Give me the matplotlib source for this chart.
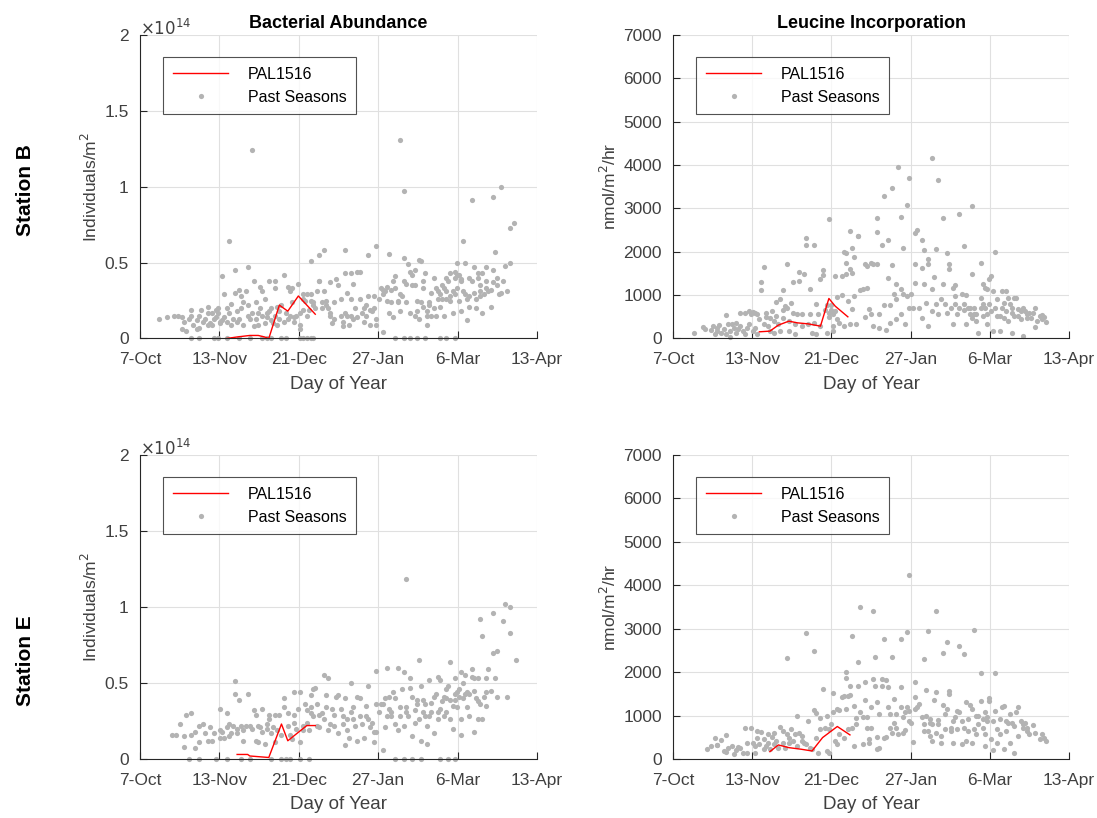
import numpy as np
import matplotlib
matplotlib.use('Agg')
import matplotlib.pyplot as plt

plt.rcParams['font.family'] = ['Liberation Sans', 'DejaVu Sans']

# x axis: days since 7-Oct
tick_days = [0, 37.6, 75.2, 112.8, 150.4, 188]
tick_labels = ['7-Oct', '13-Nov', '21-Dec', '27-Jan', '6-Mar', '13-Apr']

# ---- Station B, bacterial abundance (x1e14 individuals/m^2) ----
b_abund_past = [
    (9, 0.13), (13, 0.14), (16, 0.15), (18, 0.15), (20, 0.14), (21, 0.11), (20, 0.06), (22, 0.05),
    (23, 0.13), (24, 0.15), (24, 0.19), (25, 0.09), (27, 0.06), (27, 0.12), (28, 0.15), (28, 0.07),
    (29, 0.19), (30, 0.11), (31, 0.13), (32, 0.21), (32, 0.09), (32, 0.17), (33, 0.10), (34, 0.09),
    (34, 0.17), (35, 0.13), (36, 0.14), (36, 0.19), (37, 0.20), (37, 0.17), (38, 0.11), (38, 0.10),
    (39, 0.12), (39, 0.41), (40, 0.14), (40, 0.29), (41, 0.11), (41, 0.20), (42, 0.17), (42, 0.64),
    (43, 0.09), (43, 0.23), (44, 0.13), (45, 0.45), (45, 0.30), (46, 0.18), (46, 0.11), (47, 0.13),
    (47, 0.32), (48, 0.28), (48, 0.20), (49, 0.24), (49, 0.09), (50, 0.31), (51, 0.22), (51, 0.47),
    (51, 0.15), (52, 0.13), (53, 0.17), (54, 0.38), (54, 0.08), (55, 0.24), (55, 0.13), (56, 0.09),
    (56, 0.17), (57, 0.34), (57, 0.20), (58, 0.31), (58, 0.15), (59, 0.26), (59, 0.10), (60, 0.17),
    (60, 0.14), (61, 0.18), (61, 0.38), (62, 0.12), (62, 0.20), (63, 0.10), (64, 0.33), (64, 0.15),
    (64, 0.38), (65, 0.21), (65, 0.09), (66, 0.18), (66, 0.13), (67, 0.22), (68, 0.42), (68, 0.11),
    (69, 0.17), (70, 0.13), (70, 0.34), (71, 0.31), (71, 0.15), (72, 0.24), (72, 0.33), (73, 0.11),
    (73, 0.14), (74, 0.15), (75, 0.36), (76, 0.06), (76, 0.09), (76, 0.17), (77, 0.19), (77, 0.26),
    (77, 0.29), (78, 0.25), (79, 0.15), (79, 0.29), (80, 0.19), (81, 0.51), (81, 0.29), (81, 0.25),
    (82, 0.22), (82, 0.24), (83, 0.20), (84, 0.31), (85, 0.55), (85, 0.38), (85, 0.38), (86, 0.24),
    (86, 0.20), (87, 0.58), (87, 0.31), (88, 0.22), (88, 0.25), (89, 0.20), (90, 0.37), (90, 0.17),
    (90, 0.15), (91, 0.10), (92, 0.24), (92, 0.13), (93, 0.39), (94, 0.35), (95, 0.26), (95, 0.15),
    (96, 0.11), (96, 0.08), (97, 0.58), (97, 0.43), (97, 0.17), (98, 0.15), (98, 0.30), (99, 0.09),
    (100, 0.15), (100, 0.43), (100, 0.26), (101, 0.13), (101, 0.36), (102, 0.20), (103, 0.14), (103, 0.44),
    (104, 0.26), (104, 0.44), (105, 0.17), (106, 0.11), (106, 0.20), (107, 0.22), (107, 0.15), (108, 0.55),
    (108, 0.28), (109, 0.19), (109, 0.09), (110, 0.18), (111, 0.20), (111, 0.28), (112, 0.61), (112, 0.09),
    (112, 0.13), (113, 0.26), (114, 0.33), (115, 0.04), (115, 0.29), (115, 0.32), (116, 0.31), (117, 0.25),
    (117, 0.34), (118, 0.56), (118, 0.17), (119, 0.24), (119, 0.32), (120, 0.38), (120, 0.14), (121, 0.41),
    (121, 0.33), (122, 0.25), (122, 0.24), (123, 0.18), (123, 0.29), (124, 0.28), (125, 0.53), (125, 0.38),
    (125, 0.97), (126, 0.36), (126, 0.24), (127, 0.49), (128, 0.17), (128, 0.44), (129, 0.42), (129, 0.35),
    (130, 0.15), (130, 0.35), (130, 0.45), (131, 0.25), (131, 0.18), (132, 0.13), (132, 0.52), (133, 0.51),
    (133, 0.24), (134, 0.38), (134, 0.21), (134, 0.33), (135, 0.43), (136, 0.15), (136, 0.09), (136, 0.18),
    (137, 0.22), (137, 0.24), (138, 0.15), (138, 0.30), (139, 0.40), (139, 0.20), (140, 0.15), (140, 0.33),
    (141, 0.26), (141, 0.31), (142, 0.21), (142, 0.29), (143, 0.35), (143, 0.26), (144, 0.15), (144, 0.33),
    (145, 0.40), (145, 0.26), (145, 0.31), (146, 0.38), (147, 0.28), (147, 0.25), (147, 0.43), (148, 0.17),
    (148, 0.31), (149, 0.29), (149, 0.44), (149, 0.40), (150, 0.50), (150, 0.42), (150, 0.33), (151, 0.25),
    (151, 0.42), (152, 0.18), (152, 0.39), (152, 0.38), (153, 0.64), (153, 0.31), (154, 0.50), (154, 0.29),
    (155, 0.26), (155, 0.12), (156, 0.21), (156, 0.40), (156, 0.28), (157, 0.91), (157, 0.38), (158, 0.47),
    (158, 0.30), (159, 0.26), (159, 0.20), (160, 0.40), (160, 0.43), (161, 0.31), (161, 0.28), (161, 0.35),
    (162, 0.17), (162, 0.43), (163, 0.29), (164, 0.47), (164, 0.38), (164, 0.33), (165, 0.31), (166, 0.32),
    (166, 0.21), (167, 0.93), (167, 0.45), (167, 0.37), (168, 0.57), (169, 0.40), (169, 0.35), (170, 0.29),
    (171, 0.30), (171, 1.00), (172, 0.38), (173, 0.48), (174, 0.31), (175, 0.73), (175, 0.50), (177, 0.76),
    (53, 1.24), (123, 1.31),
    (24, 0), (28, 0), (35, 0), (37, 0), (41, 0), (47, 0), (52, 0), (58, 0), (60, 0), (62, 0), (67, 0),
    (69, 0), (76, 0), (77, 0), (79, 0), (81, 0), (82, 0), (121, 0), (125, 0), (128, 0), (131, 0),
    (135, 0), (142, 0), (145, 0), (149, 0),
]
b_abund_pal = [(41, 0.00), (46, 0.01), (52, 0.02), (56, 0.02), (59, 0.01), (61, 0.0),
               (66, 0.22), (70, 0.18), (75, 0.28), (83, 0.16)]

# ---- Station B, leucine incorporation (nmol/m^2/hr) ----
b_leu_past = [
    (10, 130), (14, 260), (15, 230), (18, 185), (19, 285), (20, 108), (21, 170), (21, 246), (22, 308),
    (23, 130), (24, 208), (25, 540), (25, 108), (26, 323), (27, 31), (27, 170), (28, 338), (29, 246),
    (30, 130), (30, 361), (31, 208), (32, 585), (32, 285), (33, 170), (34, 592), (34, 108), (35, 246),
    (36, 323), (36, 623), (37, 554), (38, 170), (38, 600), (39, 592), (39, 246), (40, 108), (40, 554),
    (41, 438), (42, 1107), (42, 1300), (43, 323), (43, 1653), (44, 592), (44, 492), (45, 285), (46, 170),
    (46, 477), (47, 630), (48, 400), (48, 130), (49, 846), (49, 515), (50, 323), (51, 900), (51, 170),
    (52, 1107), (52, 646), (52, 477), (53, 746), (54, 1707), (54, 708), (55, 170), (55, 400), (56, 823),
    (57, 592), (57, 1307), (58, 108), (58, 323), (59, 554), (60, 1538), (60, 1323), (61, 554), (61, 285),
    (62, 1476), (63, 2323), (63, 2153), (64, 323), (65, 1153), (65, 554), (66, 130), (67, 2146), (67, 361),
    (68, 785), (68, 108), (69, 554), (70, 285), (70, 1361), (71, 1461), (71, 1569), (72, 646), (73, 130),
    (73, 769), (74, 2746), (74, 592), (74, 492), (75, 769), (75, 646), (76, 170), (76, 554), (76, 285),
    (77, 1438), (77, 630), (78, 438), (78, 954), (79, 361), (80, 1438), (80, 1000), (81, 285), (81, 2000),
    (82, 1977), (82, 1746), (82, 1476), (83, 861), (84, 338), (84, 1592), (84, 2476), (85, 2092), (85, 1515),
    (85, 669), (86, 1876), (86, 977), (87, 338), (88, 2361), (88, 2369), (89, 1107), (90, 1130), (91, 492),
    (91, 1707), (92, 1169), (92, 1669), (93, 669), (94, 1746), (94, 554), (95, 1707), (95, 285), (97, 2784),
    (97, 2461), (97, 1707), (98, 246), (98, 554), (99, 2153), (100, 769), (100, 3284), (101, 185), (102, 2261),
    (102, 1400), (103, 361), (103, 769), (104, 1692), (104, 3461), (105, 1015), (106, 1246), (106, 438),
    (106, 900), (107, 3953), (108, 1130), (108, 554), (108, 2800), (109, 1015), (109, 2092), (110, 338),
    (111, 977), (111, 3076), (112, 3707), (112, 708), (113, 1015), (114, 708), (115, 1707), (115, 1276),
    (115, 2438), (116, 2492), (117, 708), (118, 477), (118, 2261), (118, 1630), (119, 2030), (119, 1246),
    (120, 823), (121, 1723), (121, 285), (121, 1823), (123, 4153), (123, 1153), (123, 630), (124, 1415),
    (125, 785), (125, 2053), (126, 3646), (126, 554), (127, 900), (128, 1246), (128, 2784), (129, 785),
    (130, 592), (130, 1977), (131, 1707), (131, 1592), (132, 708), (133, 1169), (133, 323), (134, 977),
    (134, 1230), (134, 785), (135, 554), (136, 2861), (136, 708), (137, 1015), (138, 785), (138, 646),
    (138, 2130), (139, 1000), (139, 323), (140, 708), (141, 554), (141, 708), (142, 1476), (142, 477),
    (142, 3053), (143, 554), (143, 708), (144, 400), (144, 554), (145, 130), (146, 1746), (146, 708),
    (146, 938), (147, 1246), (147, 785), (147, 515), (148, 1169), (148, 708), (149, 323), (149, 554),
    (149, 1153), (150, 785), (150, 1361), (151, 1438), (151, 630), (152, 170), (152, 1092), (153, 708),
    (153, 2000), (154, 515), (154, 900), (155, 170), (155, 515), (156, 708), (156, 1092), (157, 823),
    (157, 477), (158, 1092), (158, 630), (159, 400), (159, 938), (160, 785), (161, 592), (161, 708),
    (161, 130), (162, 938), (162, 515), (163, 938), (164, 515), (164, 669), (165, 630), (165, 438),
    (166, 54), (166, 708), (167, 630), (168, 554), (168, 477), (169, 592), (170, 477), (171, 592),
    (172, 708), (172, 262), (173, 400), (174, 515), (175, 538), (175, 438), (176, 492), (177, 385),
]
b_leu_pal = [(41, 154), (46, 170), (50, 308), (55, 400), (59, 361), (64, 338), (70, 285),
             (74, 923), (77, 746), (83, 500)]

# ---- Station E, bacterial abundance (x1e14 individuals/m^2) ----
e_abund_past = [
    (15, 0.16), (17, 0.16), (19, 0.23), (21, 0.15), (21, 0.08), (22, 0.29), (24, 0.30), (24, 0.16),
    (26, 0.07), (26, 0.18), (28, 0.22), (28, 0.11), (30, 0.23), (31, 0.17), (32, 0.12), (33, 0.21),
    (34, 0.12), (35, 0.17), (38, 0.14), (38, 0.19), (38, 0.33), (39, 0.18), (40, 0.14), (41, 0.21),
    (41, 0.30), (42, 0.15), (42, 0.23), (43, 0.17), (44, 0.22), (45, 0.51), (45, 0.43), (46, 0.17),
    (46, 0.20), (47, 0.39), (48, 0.22), (49, 0.12), (49, 0.19), (50, 0.22), (51, 0.43), (52, 0.22),
    (53, 0.20), (54, 0.32), (55, 0.12), (55, 0.29), (56, 0.22), (56, 0.11), (57, 0.21), (58, 0.18),
    (58, 0.33), (59, 0.10), (60, 0.23), (60, 0.20), (61, 0.26), (61, 0.29), (62, 0.17), (63, 0.21),
    (64, 0.11), (64, 0.29), (65, 0.19), (66, 0.29), (67, 0.16), (68, 0.40), (68, 0.34), (70, 0.22),
    (70, 0.30), (71, 0.16), (72, 0.13), (73, 0.44), (73, 0.29), (73, 0.24), (74, 0.20), (75, 0.33),
    (76, 0.11), (76, 0.44), (77, 0.22), (77, 0.19), (78, 0.36), (79, 0.32), (79, 0.24), (80, 0.19),
    (81, 0.42), (81, 0.30), (81, 0.34), (82, 0.28), (82, 0.46), (83, 0.47), (84, 0.22), (84, 0.36),
    (85, 0.29), (85, 0.21), (86, 0.30), (87, 0.55), (87, 0.26), (88, 0.34), (88, 0.42), (89, 0.53),
    (89, 0.19), (90, 0.23), (91, 0.33), (92, 0.29), (92, 0.22), (93, 0.41), (94, 0.42), (94, 0.17),
    (95, 0.33), (96, 0.28), (96, 0.23), (97, 0.09), (97, 0.40), (98, 0.26), (98, 0.19), (99, 0.14),
    (100, 0.31), (100, 0.50), (101, 0.34), (101, 0.26), (102, 0.22), (103, 0.12), (103, 0.41), (104, 0.40),
    (104, 0.28), (105, 0.23), (106, 0.14), (107, 0.28), (107, 0.35), (108, 0.48), (108, 0.26), (109, 0.21),
    (110, 0.24), (111, 0.11), (111, 0.18), (112, 0.58), (112, 0.36), (112, 0.18), (113, 0.31), (114, 0.36),
    (115, 0.06), (115, 0.36), (116, 0.40), (116, 0.21), (117, 0.28), (117, 0.60), (118, 0.41), (118, 0.33),
    (119, 0.28), (119, 0.31), (120, 0.44), (121, 0.23), (121, 0.40), (122, 0.60), (122, 0.19), (123, 0.28),
    (123, 0.34), (124, 0.46), (125, 0.57), (125, 0.22), (126, 1.18), (126, 0.31), (126, 0.34), (127, 0.28),
    (128, 0.47), (128, 0.53), (129, 0.15), (129, 0.41), (130, 0.24), (130, 0.32), (131, 0.36), (131, 0.39),
    (132, 0.26), (132, 0.65), (133, 0.48), (133, 0.12), (134, 0.31), (134, 0.39), (135, 0.36), (135, 0.28),
    (136, 0.10), (136, 0.22), (137, 0.28), (137, 0.52), (138, 0.31), (138, 0.37), (139, 0.17), (139, 0.41),
    (140, 0.43), (141, 0.26), (141, 0.31), (141, 0.54), (142, 0.52), (142, 0.33), (143, 0.38), (144, 0.28),
    (144, 0.41), (145, 0.31), (145, 0.46), (145, 0.40), (146, 0.48), (147, 0.64), (147, 0.39), (147, 0.26),
    (148, 0.20), (148, 0.35), (149, 0.43), (149, 0.53), (149, 0.39), (150, 0.44), (150, 0.34), (151, 0.46),
    (151, 0.41), (152, 0.16), (152, 0.26), (152, 0.57), (153, 0.40), (153, 0.50), (154, 0.55), (154, 0.43),
    (155, 0.44), (155, 0.34), (156, 0.28), (156, 0.43), (157, 0.54), (157, 0.59), (158, 0.18), (158, 0.53),
    (158, 0.45), (159, 0.40), (160, 0.53), (160, 0.26), (160, 0.38), (161, 0.36), (161, 0.92), (162, 0.26),
    (162, 0.81), (163, 0.41), (164, 0.53), (164, 0.44), (164, 0.35), (165, 0.59), (166, 0.45), (167, 0.70),
    (167, 0.96), (168, 0.53), (169, 0.71), (169, 0.41), (172, 0.91), (173, 1.02), (174, 0.41), (175, 1.00),
    (175, 0.83), (178, 0.65),
    (23, 0), (28, 0), (36, 0), (41, 0), (48, 0), (52, 0), (62, 0), (67, 0), (69, 0), (71, 0), (76, 0),
    (80, 0), (121, 0), (125, 0), (129, 0), (133, 0), (142, 0), (146, 0), (149, 0),
]
e_abund_pal = [(46, 0.03), (51, 0.03), (52, 0.02), (61, 0.01), (67, 0.23), (70, 0.12),
               (79, 0.22), (83, 0.22)]

# ---- Station E, leucine incorporation (nmol/m^2/hr) ----
e_leu_past = [
    (16, 239), (18, 300), (20, 493), (21, 316), (21, 324), (23, 432), (25, 555), (24, 185), (25, 170),
    (26, 262), (28, 300), (29, 123), (30, 200), (31, 278), (32, 247), (33, 146), (34, 725), (35, 378),
    (35, 146), (37, 725), (38, 378), (39, 300), (39, 146), (40, 648), (40, 493), (41, 355), (42, 632),
    (43, 224), (43, 455), (44, 300), (45, 586), (45, 378), (46, 224), (47, 509), (48, 339), (48, 609),
    (49, 416), (50, 262), (51, 740), (52, 648), (52, 378), (53, 262), (54, 2328), (54, 571), (55, 378),
    (55, 493), (56, 686), (57, 416), (58, 571), (59, 300), (59, 995), (60, 609), (61, 416), (61, 532),
    (62, 378), (63, 2899), (63, 339), (64, 864), (65, 262), (66, 224), (67, 2475), (67, 1126), (68, 1049),
    (68, 493), (69, 146), (70, 686), (70, 941), (71, 1611), (72, 725), (73, 185), (73, 995), (74, 686),
    (74, 146), (75, 802), (76, 1072), (76, 1511), (77, 416), (78, 1149), (78, 339), (79, 571), (79, 1133),
    (80, 1434), (81, 1457), (81, 493), (82, 1997), (82, 1866), (82, 1149), (83, 686), (83, 1457), (84, 1480),
    (84, 1689), (85, 2822), (85, 725), (86, 300), (86, 1226), (87, 817), (87, 941), (88, 1689), (88, 2228),
    (89, 3500), (89, 1072), (90, 339), (90, 972), (91, 1357), (91, 1766), (92, 956), (92, 725), (93, 455),
    (93, 378), (94, 1187), (94, 725), (95, 1843), (95, 3408), (96, 2344), (96, 1689), (97, 224), (97, 1303),
    (97, 509), (98, 1033), (98, 262), (99, 1843), (99, 1689), (100, 493), (100, 2768), (101, 509), (101, 1820),
    (102, 1665), (102, 1187), (103, 1033), (103, 725), (104, 609), (104, 2344), (105, 840), (105, 1380),
    (106, 725), (106, 1033), (107, 586), (108, 2753), (108, 1203), (108, 1650), (109, 609), (109, 956),
    (110, 1072), (110, 663), (111, 1187), (111, 2922), (112, 4233), (112, 1110), (112, 879), (113, 840),
    (114, 401), (115, 1766), (115, 1434), (115, 1149), (116, 1187), (117, 1264), (118, 956), (119, 2305),
    (119, 648), (119, 802), (120, 1588), (120, 995), (121, 648), (121, 2945), (122, 840), (122, 532),
    (122, 918), (123, 817), (123, 416), (124, 1357), (125, 1534), (125, 609), (125, 3408), (126, 802),
    (126, 894), (127, 378), (127, 532), (128, 1249), (128, 2436), (129, 1033), (129, 686), (130, 1149),
    (130, 2691), (131, 1496), (131, 1573), (132, 725), (132, 648), (133, 378), (133, 879), (134, 956),
    (135, 1095), (135, 686), (136, 2591), (136, 1072), (137, 339), (137, 879), (138, 725), (138, 2421),
    (139, 416), (139, 1303), (140, 648), (140, 918), (141, 1249), (142, 378), (142, 1149), (143, 2976),
    (143, 686), (144, 995), (144, 571), (145, 802), (145, 995), (146, 1974), (146, 1342), (147, 918),
    (147, 725), (148, 300), (148, 1072), (148, 571), (149, 956), (149, 879), (150, 1326), (150, 1403),
    (151, 455), (152, 200), (152, 879), (153, 1095), (153, 1974), (154, 686), (154, 378), (155, 918),
    (155, 586), (156, 1203), (157, 224), (157, 1226), (158, 879), (158, 648), (159, 840), (160, 378),
    (160, 1033), (161, 840), (162, 146), (162, 763), (163, 1072), (164, 1187), (164, 532), (165, 879),
    (166, 802), (166, 725), (167, 840), (168, 725), (168, 648), (169, 571), (171, 786), (172, 609),
    (174, 455), (175, 571), (176, 493), (177, 416),
]
e_leu_pal = [(46, 170), (50, 324), (55, 262), (61, 224), (66, 185), (71, 493), (78, 748), (84, 555)]

panels = [
    (b_abund_past, b_abund_pal, [0, 0.5, 1, 1.5, 2], 'Individuals/m$^2$', True),
    (b_leu_past, b_leu_pal, list(range(0, 7001, 1000)), 'nmol/m$^2$/hr', False),
    (e_abund_past, e_abund_pal, [0, 0.5, 1, 1.5, 2], 'Individuals/m$^2$', True),
    (e_leu_past, e_leu_pal, list(range(0, 7001, 1000)), 'nmol/m$^2$/hr', False),
]
positions = [
    [0.1276, 0.5862, 0.3619, 0.371],
    [0.6135, 0.5862, 0.3610, 0.371],
    [0.1276, 0.0721, 0.3619, 0.372],
    [0.6135, 0.0721, 0.3610, 0.372],
]

dark = '#262626'
txt = '#404040'
dot_col = '#b3b3b3'

fig = plt.figure(figsize=(10.97, 8.18), dpi=100)

for i, (past, pal, yticks, ylab, sci) in enumerate(panels):
    ax = fig.add_axes(positions[i])
    px, py = np.array(past).T
    lx, ly = np.array(pal).T
    ax.plot(lx, ly, color='red', lw=1.0, label='PAL1516', zorder=3)
    ax.plot(px, py, '.', color=dot_col, ms=7.5, mec='none', label='Past Seasons',
            clip_on=False, zorder=2)
    ax.set_xlim(0, 188)
    ax.set_ylim(yticks[0], yticks[-1])
    ax.set_xticks(tick_days)
    ax.set_xticklabels(tick_labels)
    ax.set_yticks(yticks)
    ax.set_yticklabels(['%g' % t for t in yticks])
    ax.grid(True, color='#e0e0e0', lw=0.8)
    ax.set_axisbelow(True)
    for s in ['top', 'right']:
        ax.spines[s].set_visible(False)
    for s in ['left', 'bottom']:
        ax.spines[s].set_color(dark)
        ax.spines[s].set_linewidth(0.8)
    ax.tick_params(direction='in', length=5, width=0.8, color=dark, labelcolor=txt,
                   labelsize=12.5)
    ax.tick_params(axis='x', pad=10)
    ax.tick_params(axis='y', pad=8)
    ax.set_xlabel('Day of Year', fontsize=13.5, color=txt, labelpad=6)
    ax.set_ylabel(ylab, fontsize=12.5, color=txt, labelpad=3)
    if sci:
        ax.text(0.0, 0.99, r'$\times10^{14}$', transform=ax.transAxes, fontsize=12,
                color=txt, ha='left', va='bottom')
    leg = ax.legend(loc='upper left', bbox_to_anchor=(0.058, 0.927), fontsize=11.5,
                    frameon=True, fancybox=False, edgecolor=dark, handlelength=3.5,
                    borderpad=0.6, labelspacing=0.5, handletextpad=1.2, borderaxespad=0)
    leg.get_frame().set_linewidth(0.8)
    if i == 0:
        ax.set_title('Bacterial Abundance', fontsize=13, fontweight='bold', pad=5)
    if i == 1:
        ax.set_title('Leucine Incorporation', fontsize=13, fontweight='bold', pad=5)

fig.text(0.023, 0.768, 'Station B', rotation=90, fontsize=15, fontweight='bold',
         ha='center', va='center')
fig.text(0.023, 0.192, 'Station E', rotation=90, fontsize=15, fontweight='bold',
         ha='center', va='center')

fig.savefig('out.png', dpi=100)
